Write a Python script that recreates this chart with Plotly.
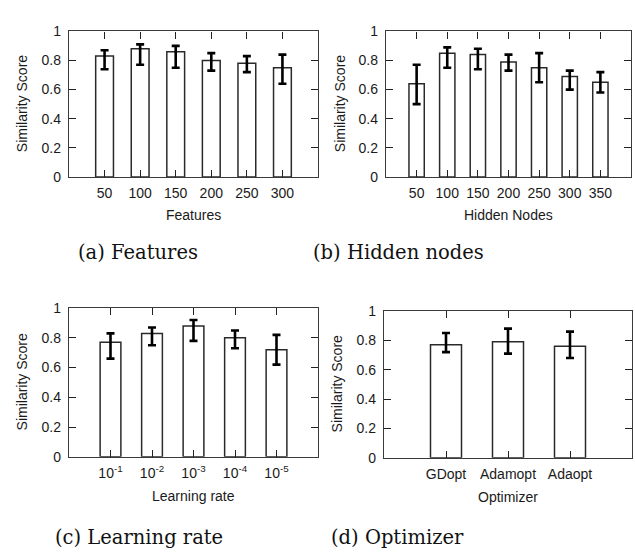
import plotly.graph_objects as go

W, H = 635, 558

# ---- data ----
feat_cats = ["50", "100", "150", "200", "250", "300"]
feat_vals = [0.83, 0.88, 0.86, 0.80, 0.78, 0.75]
feat_hi = [0.87, 0.91, 0.90, 0.85, 0.83, 0.84]
feat_lo = [0.74, 0.77, 0.75, 0.73, 0.72, 0.64]

hid_cats = ["50", "100", "150", "200", "250", "300", "350"]
hid_vals = [0.64, 0.85, 0.84, 0.79, 0.75, 0.69, 0.65]
hid_hi = [0.77, 0.89, 0.88, 0.84, 0.85, 0.73, 0.72]
hid_lo = [0.50, 0.75, 0.74, 0.73, 0.65, 0.60, 0.58]

lr_cats = ["10<sup>-1</sup>", "10<sup>-2</sup>", "10<sup>-3</sup>", "10<sup>-4</sup>", "10<sup>-5</sup>"]
lr_vals = [0.77, 0.83, 0.88, 0.80, 0.72]
lr_hi = [0.83, 0.87, 0.92, 0.85, 0.82]
lr_lo = [0.66, 0.75, 0.78, 0.73, 0.62]

opt_cats = ["GDopt", "Adamopt", "Adaopt"]
opt_vals = [0.77, 0.79, 0.76]
opt_hi = [0.85, 0.88, 0.86]
opt_lo = [0.72, 0.71, 0.68]

y_ticks = [0, 0.2, 0.4, 0.6, 0.8, 1]
y_ticktext = ["0", "0.2", "0.4", "0.6", "0.8", "1"]

panels = [
    (feat_cats, feat_vals, feat_hi, feat_lo, "Features", "(a) Features", (69, 318), (24, 174), 22, 213, (138, 252)),
    (hid_cats, hid_vals, hid_hi, hid_lo, "Hidden Nodes", "(b) Hidden nodes", (386, 631), (24, 174), 340, 213, (398, 252)),
    (lr_cats, lr_vals, lr_hi, lr_lo, "Learning rate", "(c) Learning rate", (69, 318), (309, 462), 22, 502, (139, 545)),
    (opt_cats, opt_vals, opt_hi, opt_lo, "Optimizer", "(d) Optimizer", (384, 632), (312, 463), 337, 503, (397, 545)),
]

fig = go.Figure()
layout = dict(
    width=W, height=H,
    margin=dict(l=0, r=0, t=0, b=0),
    paper_bgcolor="white", plot_bgcolor="white",
    showlegend=False,
    font=dict(family="Liberation Sans, Arial, sans-serif", size=14, color="#222"),
)
annotations = []
tickf = dict(family="Liberation Sans, Arial, sans-serif", size=14, color="#1a1a1a")
titlef = dict(family="Liberation Sans, Arial, sans-serif", size=14, color="#1a1a1a")
serif = dict(family="DejaVu Serif, serif", size=19.5, color="#111")

for i, (cats, vals, hi, lo, xt, cap, xd, yd, ylx, xty, capxy) in enumerate(panels):
    n = len(cats)
    xs = list(range(1, n + 1))
    k = "" if i == 0 else str(i + 1)
    fig.add_trace(go.Bar(
        x=xs, y=vals, width=0.5,
        marker=dict(color="white", line=dict(color="#2a2a2a", width=1.5)),
        error_y=dict(type="data", symmetric=False,
                     array=[h - v for h, v in zip(hi, vals)],
                     arrayminus=[v - l for v, l in zip(vals, lo)],
                     color="black", thickness=2.6, width=4),
        xaxis="x" + k, yaxis="y" + k,
    ))
    layout["xaxis" + k] = dict(
        domain=[xd[0] / W, xd[1] / W], anchor="y" + k,
        range=[0, n + 1], tickmode="array", tickvals=xs, ticktext=cats,
        ticks="inside", ticklen=7, tickwidth=1.3, tickcolor="#222",
        showline=True, linecolor="#3a3a3a", linewidth=1.4, mirror="allticks",
        showgrid=False, zeroline=False, fixedrange=True,
        tickfont=tickf, ticklabelstandoff=3,
    )
    layout["yaxis" + k] = dict(
        domain=[1 - yd[1] / H, 1 - yd[0] / H], anchor="x" + k,
        range=[0, 1], tickmode="array", tickvals=y_ticks, ticktext=y_ticktext,
        ticks="inside", ticklen=7, tickwidth=1.3, tickcolor="#222",
        showline=True, linecolor="#3a3a3a", linewidth=1.4, mirror="allticks",
        showgrid=False, zeroline=False, fixedrange=True,
        tickfont=tickf, ticklabelstandoff=4,
    )
    xc = (xd[0] + xd[1]) / 2
    yc = (yd[0] + yd[1]) / 2
    annotations.append(dict(text=xt, x=xc / W, y=1 - xty / H, xref="paper", yref="paper",
                            xanchor="center", yanchor="middle", showarrow=False, font=titlef))
    annotations.append(dict(text="Similarity Score", x=ylx / W, y=1 - yc / H, xref="paper", yref="paper",
                            xanchor="center", yanchor="middle", showarrow=False, textangle=-90, font=titlef))
    annotations.append(dict(text=cap, x=capxy[0] / W, y=1 - capxy[1] / H, xref="paper", yref="paper",
                            xanchor="center", yanchor="middle", showarrow=False, font=serif))

layout["annotations"] = annotations
fig.update_layout(**layout)
fig.write_html("out.html")
